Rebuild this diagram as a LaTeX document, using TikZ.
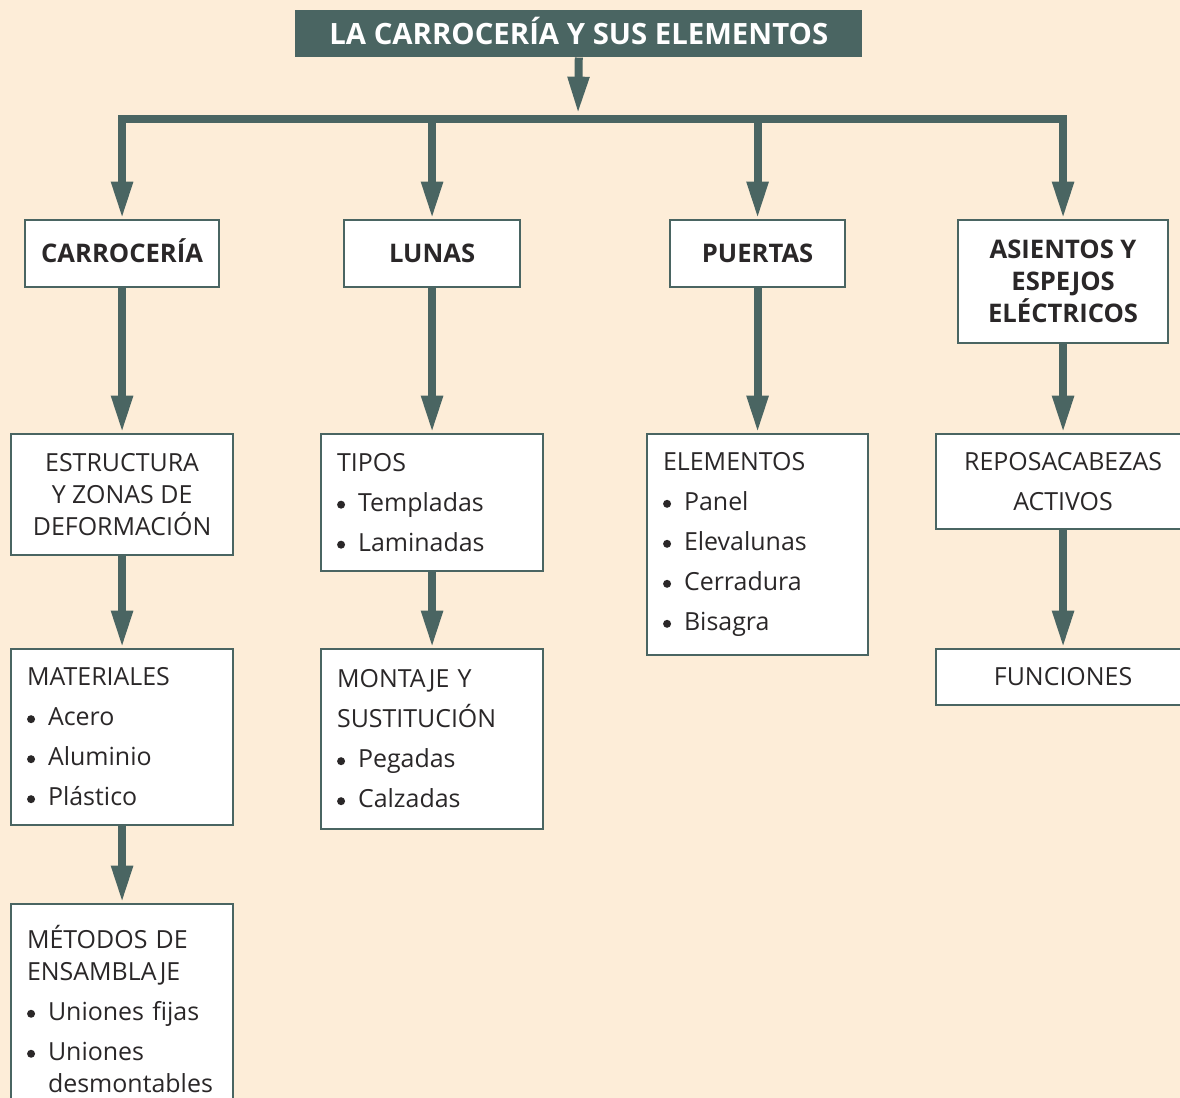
\documentclass[tikz,border=0pt]{standalone}
\usepackage{fontspec}
\setmainfont{Open Sans}
\usetikzlibrary{arrows.meta}
\definecolor{slate}{HTML}{4A6562}
\definecolor{paper}{HTML}{FDEDD8}
\definecolor{ink}{HTML}{2A2728}
% round bullet followed by the item text
\newcommand\itm[1]{\makebox[15.75pt][l]{\raisebox{2.1pt}{\tikz\fill[ink] (0,0) circle (3pt);}}#1}
\tikzset{
  box/.style={draw=slate, line width=1.6pt, fill=white, anchor=north west,
    inner sep=0pt, text=ink, font=\fontsize{18.7}{24}\selectfont},
  head/.style={box, align=center, font=\bfseries\fontsize{19.2}{24}\selectfont},
  plain/.style={box, align=center},
  listbox/.style={box, align=left},
  arr/.style={draw=slate, line width=6pt, line join=miter,
    -{Triangle[width=15pt,length=28pt]}},
}
\begin{document}
\begin{tikzpicture}[x=0.75pt,y=-0.75pt]
\useasboundingbox[fill=paper] (0,0) rectangle (1180,1098);

% title
\node[fill=slate, anchor=north west, minimum width=425.25pt, minimum height=35.25pt,
  inner sep=0pt, text=white, text height=15.6pt, text depth=0pt,
  font=\bfseries\fontsize{22}{24}\selectfont]
  (title) at (295,10) {LA CARROCERÍA Y SUS ELEMENTOS};

% first level
\node[head, minimum width=145.5pt, minimum height=50.25pt, text height=13.7pt, text depth=0pt]
  (carr) at (24,219) {CARROCERÍA};
\node[head, minimum width=132pt, minimum height=50.25pt, text height=13.7pt, text depth=0pt]
  (lunas) at (343,219) {LUNAS};
\node[head, minimum width=131.25pt, minimum height=50.25pt, text height=13.7pt, text depth=0pt]
  (puertas) at (669,219) {PUERTAS};
\node[head, minimum width=157.5pt, minimum height=92.25pt] (asientos) at (957,219)
  {ASIENTOS Y\\ESPEJOS\\ELÉCTRICOS};

% second level
\node[plain, minimum width=166.5pt, minimum height=90.75pt] (estr) at (10,433)
  {ESTRUCTURA\\Y ZONAS DE\\DEFORMACIÓN};
\node[listbox, minimum width=166.5pt, minimum height=102.75pt, text width=142.5pt] (tipos) at (320,433)
  {TIPOS\\[6pt]\itm{Templadas}\\[6pt]\itm{Laminadas}};
\node[listbox, minimum width=165.75pt, minimum height=165.75pt, text width=141.75pt] (elem) at (646,433)
  {ELEMENTOS\\[6pt]\itm{Panel}\\[6pt]\itm{Elevalunas}\\[6pt]\itm{Cerradura}\\[6pt]\itm{Bisagra}};
\node[plain, minimum width=190.5pt, minimum height=71.25pt] (repo) at (935,433)
  {REPOSACABEZAS\\[6pt]ACTIVOS};

% third level
\node[listbox, minimum width=166.5pt, minimum height=132pt, text width=142.5pt] (mat) at (10,648)
  {MATERIALES\\[6pt]\itm{Acero}\\[6pt]\itm{Aluminio}\\[6pt]\itm{Plástico}};
\node[listbox, minimum width=166.5pt, minimum height=135pt, text width=142.5pt] (mont) at (320,648)
  {MONTAJE Y\\[6pt]SUSTITUCIÓN\\[6pt]\itm{Pegadas}\\[6pt]\itm{Calzadas}};
\node[plain, minimum width=190.5pt, minimum height=42pt] (func) at (935,648) {FUNCIONES};

% fourth level
\node[listbox, minimum width=166.5pt, minimum height=157.5pt, text width=142.5pt] (metod) at (10,903)
  {MÉTODOS DE\\ENSAMBLAJE\\[6pt]\itm{Uniones fijas}\\[6pt]\itm{Uniones}\\\hspace*{15.75pt}desmontables};

% distribution bar
\coordinate (bus) at (578,119);
\coordinate (drop) at (578,114);
\draw[arr] (title.south) -- (drop);
\draw[arr] (bus) -| (carr.north);
\draw[arr] (bus) -| (lunas.north);
\draw[arr] (bus) -| (puertas.north);
\draw[arr] (bus) -| (asientos.north);

% column links
\draw[arr] (carr.south) -- (estr.north);
\draw[arr] (estr.south) -- (mat.north);
\draw[arr] (mat.south) -- (metod.north);
\draw[arr] (lunas.south) -- (tipos.north);
\draw[arr] (tipos.south) -- (mont.north);
\draw[arr] (puertas.south) -- (elem.north);
\draw[arr] (asientos.south) -- (repo.north);
\draw[arr] (repo.south) -- (func.north);
\end{tikzpicture}
\end{document}
